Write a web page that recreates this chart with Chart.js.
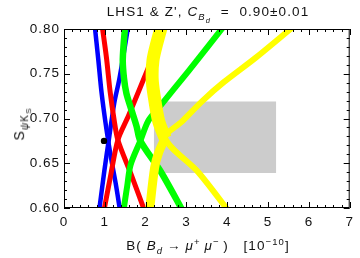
<!DOCTYPE html>
<html>
<head>
<meta charset="utf-8">
<script src="https://cdn.jsdelivr.net/npm/chart.js@4.4.1/dist/chart.umd.min.js"></script>
<style>
  html, body { margin: 0; padding: 0; background: #fff; }
  #wrap { position: relative; width: 360px; height: 258px; font-family: "Liberation Sans", Arial, sans-serif; color: #111; letter-spacing: 1.1px; }
  canvas { position: absolute; left: 0; top: 0; }
  .lbl { position: absolute; white-space: nowrap; font-size: 13.5px; line-height: 13px; }
  .lbl sub, .lbl sup { font-size: 9.5px; line-height: 0; }
  .lbl sub sub { font-size: 7.5px; }
  #title { left: 208px; top: 5px; transform: translateX(-50%); }
  #xlab { left: 208px; top: 239px; transform: translateX(-50%); }
  #ylab { left: 21px; top: 124px; font-size: 14px; transform: translate(-50%, -50%) rotate(-90deg); }
  #ylab sub { font-size: 10px; }
  #ylab sub sub { font-size: 8px; }
</style>
</head>
<body>
<div id="wrap">
  <canvas id="chart" width="360" height="258"></canvas>
  <div id="title" class="lbl">LHS1 &amp; Z', <i>C</i><sub><i>B</i><sub><i>d</i></sub></sub> &nbsp;= &nbsp;0.90±0.01</div>
  <div id="ylab" class="lbl">S<sub><i>ψ</i>K<sub>S</sub></sub></div>
  <div id="xlab" class="lbl">B( <i>B</i><sub><i>d</i></sub>&thinsp;→&thinsp;<i>μ</i><sup>+</sup>&thinsp;<i>μ</i><sup>−</sup>&thinsp;) &nbsp;&nbsp;[10<sup>−10</sup>]</div>
</div>
<script>
// experimental box and SM point
const boxX = [2.2, 5.2];
const boxY = [0.639, 0.719];
const smPoint = [0.98, 0.675];

// each colour: two branches crossing, given as [B, S] pairs
const blueDown = [[0.75, 0.805], [0.84, 0.766], [0.92, 0.729], [1.04, 0.688], [1.16, 0.654], [1.28, 0.624], [1.38, 0.595]];
const blueUp = [[0.855, 0.595], [0.99, 0.642], [1.11, 0.680], [1.23, 0.717], [1.36, 0.745], [1.58, 0.805]];

const redDown = [[0.93, 0.805], [1.04, 0.768], [1.13, 0.730], [1.23, 0.698], [1.32, 0.676], [1.64, 0.638], [1.99, 0.595]];
const redUp = [[0.97, 0.595], [1.15, 0.638], [1.32, 0.676], [1.58, 0.703], [1.88, 0.736], [2.50, 0.805]];

const greenDown = [[1.50, 0.805], [1.44, 0.766], [1.47, 0.745], [1.53, 0.728], [1.65, 0.710], [1.78, 0.691], [1.87, 0.675], [2.38, 0.640], [2.93, 0.595]];
const greenUp = [[1.45, 0.595], [1.55, 0.625], [1.63, 0.648], [1.87, 0.675], [2.06, 0.697], [2.32, 0.712], [3.05, 0.753], [3.95, 0.805]];

const yellowUpLeft = [[2.40, 0.805], [2.28, 0.785], [2.18, 0.765], [2.16, 0.745], [2.20, 0.728], [2.32, 0.697], [2.48, 0.678]];
const yellowDownLeft = [[2.48, 0.678], [2.32, 0.662], [2.22, 0.645], [2.09, 0.595]];
const yellowRight = [[4.06, 0.595], [3.29, 0.640], [2.48, 0.678], [2.90, 0.697], [3.40, 0.720], [3.90, 0.740], [4.70, 0.768], [5.68, 0.805]];

function band(points, color, width, order) {
  return {
    data: points.map(p => ({ x: p[0], y: p[1] })),
    showLine: true,
    borderColor: color,
    borderWidth: width,
    pointRadius: 0,
    tension: 0.3,
    fill: false,
    clip: 0,
    order: order
  };
}

// frame + inward ticks on all four sides, placed with the chart scales
const frameTicks = {
  id: 'frameTicks',
  beforeDraw(chart) {
    chart.ctx.letterSpacing = '1px';
  },
  afterDatasetsDraw(chart) {
    const { ctx, chartArea: a, scales: { x, y } } = chart;
    ctx.save();
    ctx.strokeStyle = '#000';
    ctx.lineWidth = 1;
    ctx.beginPath();
    for (let i = 0; i <= 35; i++) {
      const px = Math.round(x.getPixelForValue(i / 5)) + 0.5;
      const len = i % 5 === 0 ? 6 : 3;
      ctx.moveTo(px, a.bottom); ctx.lineTo(px, a.bottom - len);
      ctx.moveTo(px, a.top); ctx.lineTo(px, a.top + len);
    }
    for (let i = 0; i <= 20; i++) {
      const py = Math.round(y.getPixelForValue(0.6 + i / 100)) + 0.5;
      const len = i % 5 === 0 ? 6 : 3;
      ctx.moveTo(a.left, py); ctx.lineTo(a.left + len, py);
      ctx.moveTo(a.right, py); ctx.lineTo(a.right - len, py);
    }
    ctx.stroke();
    ctx.strokeRect(a.left + 0.5, a.top + 0.5, a.width - 1, a.height - 1);
    ctx.restore();
  }
};

const ctx = document.getElementById('chart').getContext('2d');
new Chart(ctx, {
  type: 'scatter',
  data: {
    datasets: [
      {
        data: [
          { x: boxX[0], y: boxY[0] }, { x: boxX[0], y: boxY[1] },
          { x: boxX[1], y: boxY[1] }, { x: boxX[1], y: boxY[0] }
        ],
        showLine: true,
        borderWidth: 0,
        pointRadius: 0,
        tension: 0,
        backgroundColor: '#cccccc',
        fill: { value: boxY[0] },
        order: 10
      },
      band(blueDown, '#0000ff', 4.5, 8),
      band(blueUp, '#0000ff', 4.5, 8),
      band(redDown, '#ff0000', 5, 7),
      band(redUp, '#ff0000', 5, 7),
      band(greenDown, '#00ff00', 6.5, 6),
      band(greenUp, '#00ff00', 6, 6),
      band(yellowUpLeft, '#ffff00', 13, 5),
      band(yellowDownLeft, '#ffff00', 9, 5),
      band(yellowRight, '#ffff00', 6, 5),
      {
        data: [{ x: smPoint[0], y: smPoint[1] }],
        pointRadius: 3.2,
        pointBackgroundColor: '#000',
        pointBorderWidth: 0,
        order: 1
      }
    ]
  },
  options: {
    responsive: false,
    animation: false,
    layout: { padding: { top: 29, right: 7, left: 0, bottom: 0 } },
    plugins: { legend: { display: false }, tooltip: { enabled: false }, title: { display: false } },
    scales: {
      x: {
        type: 'linear',
        min: 0,
        max: 7,
        grid: { display: false, drawTicks: false },
        border: { display: false },
        ticks: { stepSize: 1, padding: 6, color: '#111', font: { family: 'Liberation Sans', size: 13.5 } },
        afterFit(scale) { scale.height = 50; }
      },
      y: {
        type: 'linear',
        min: 0.6,
        max: 0.8,
        grid: { display: false, drawTicks: false },
        border: { display: false },
        ticks: {
          stepSize: 0.05,
          padding: 4,
          color: '#111',
          font: { family: 'Liberation Sans', size: 13.5 },
          callback: v => v.toFixed(2)
        },
        afterFit(scale) { scale.width = 64; }
      }
    }
  },
  plugins: [frameTicks]
});
</script>
</body>
</html>
